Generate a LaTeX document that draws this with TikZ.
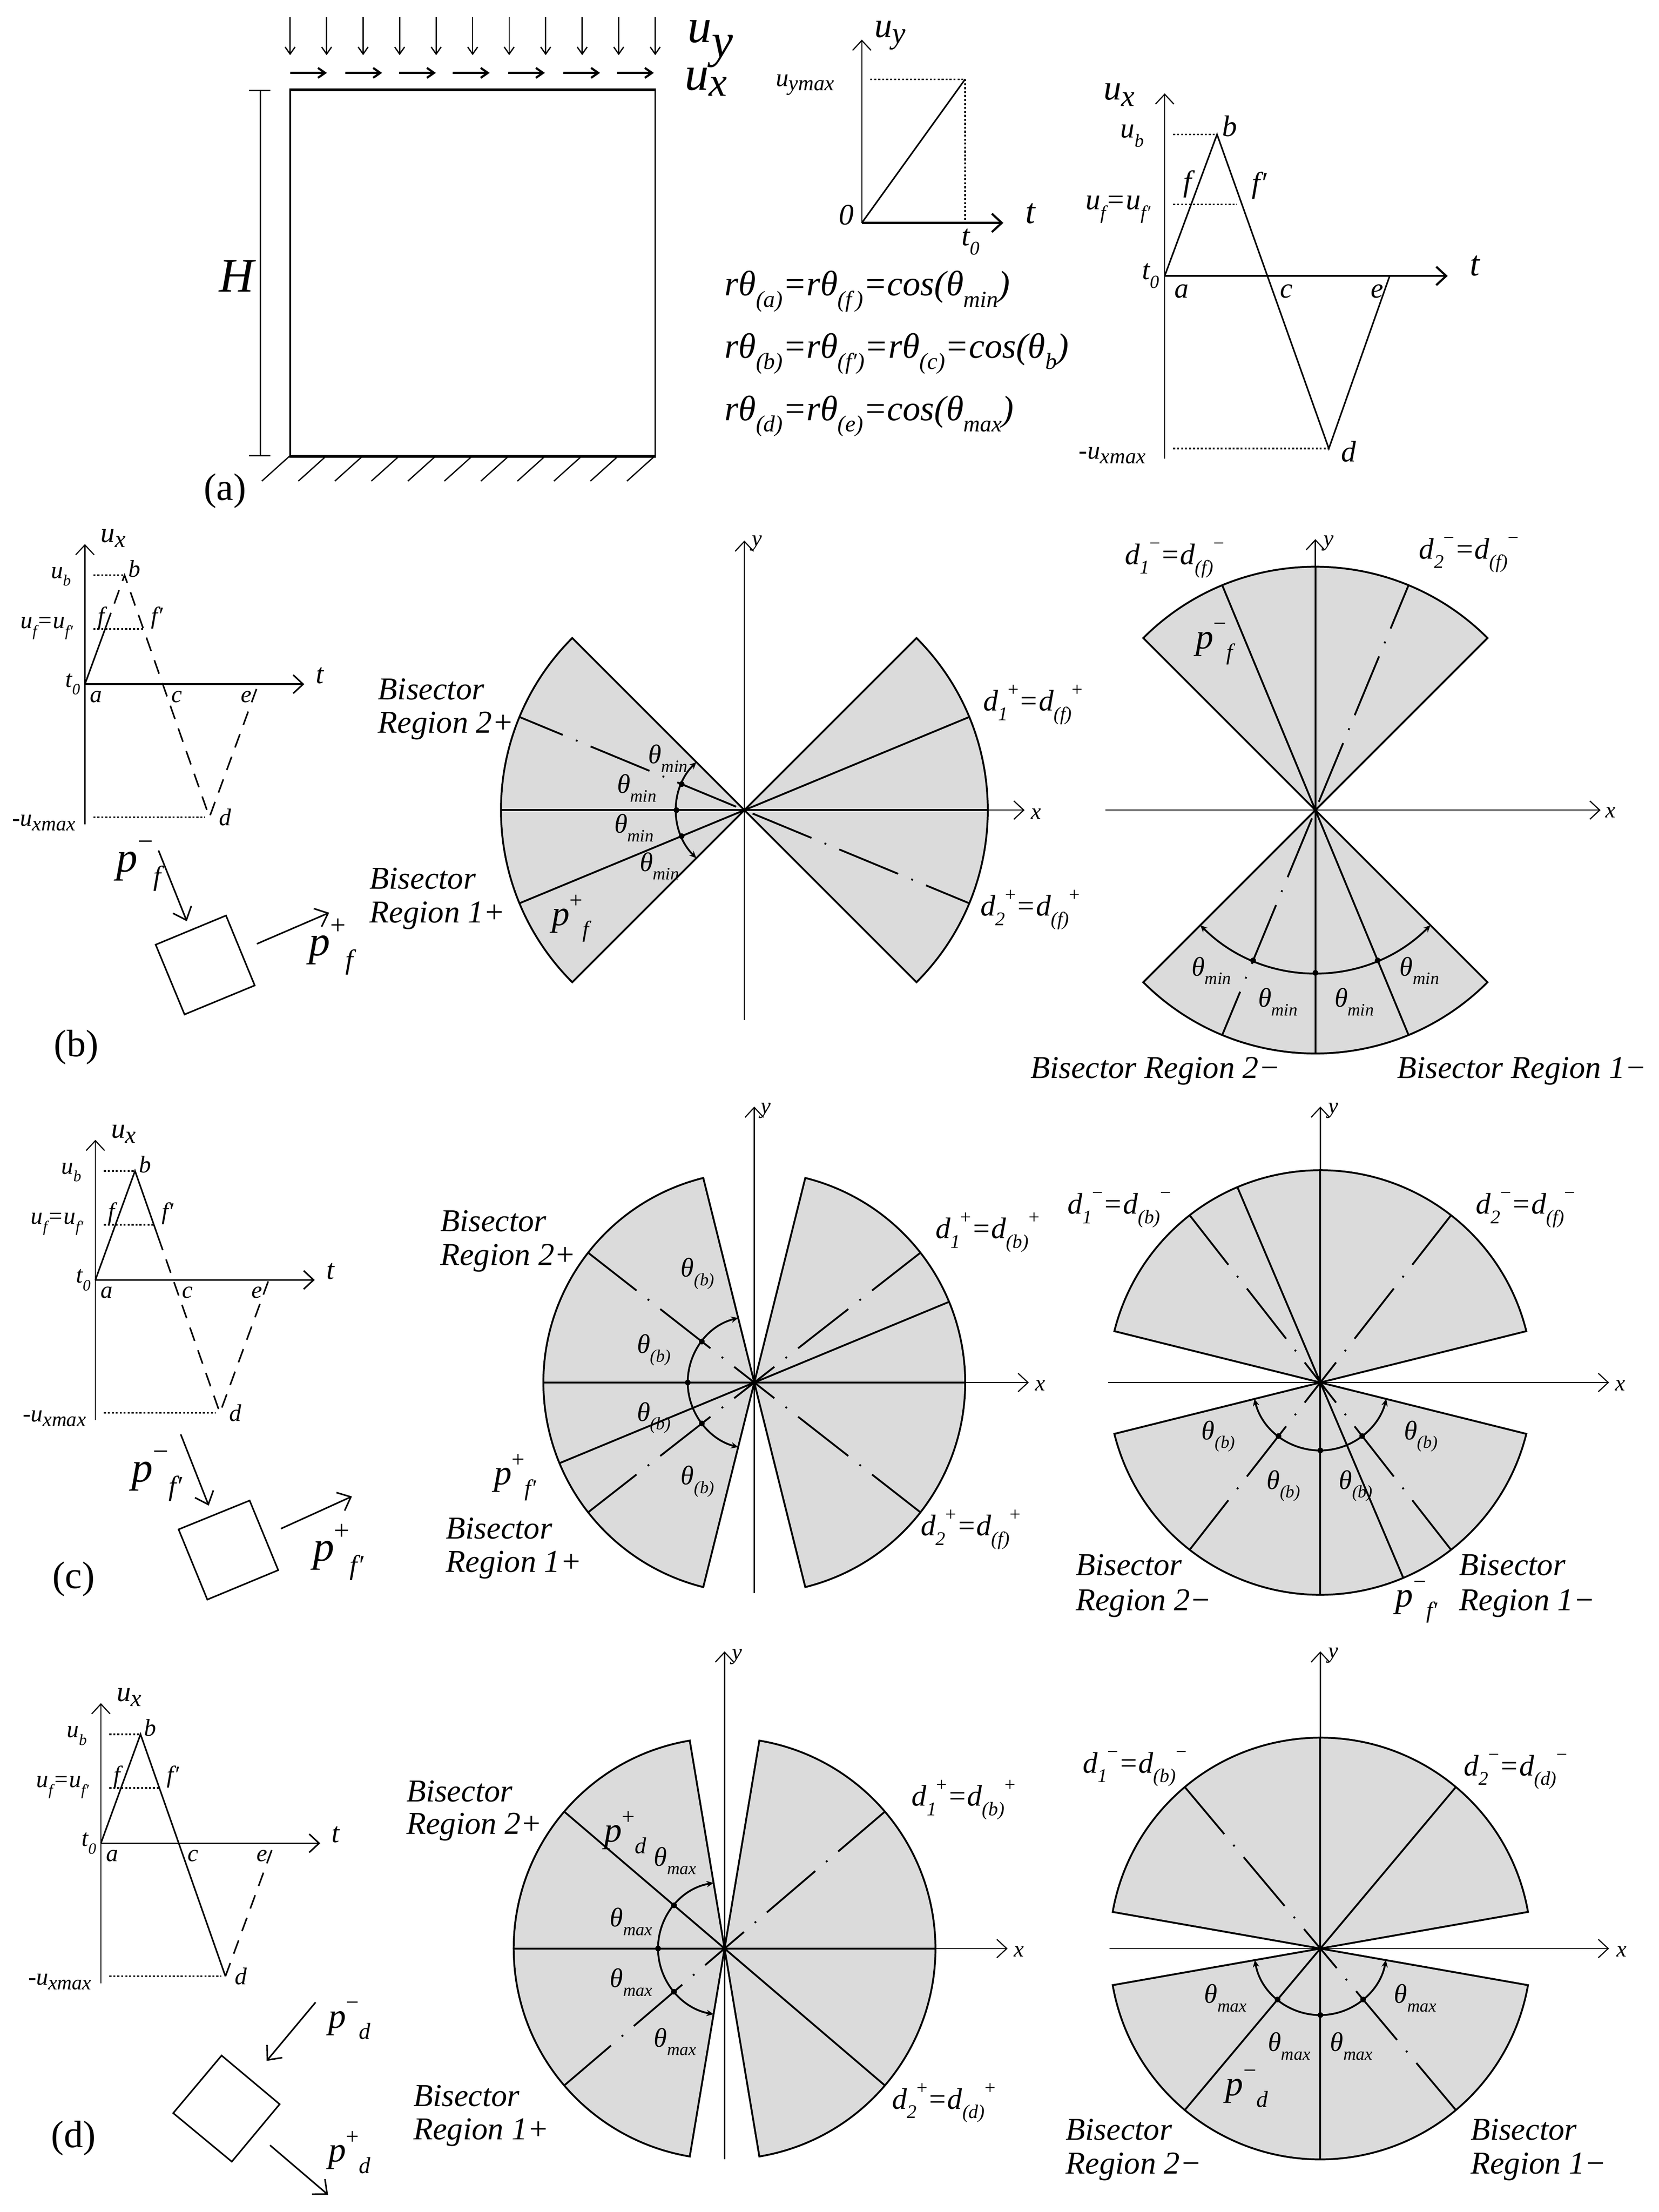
\documentclass[tikz,border=0pt]{standalone}
\usepackage{fontspec}
\usepackage{graphicx}
\setmainfont{Liberation Serif}
\usetikzlibrary{arrows.meta}

\newcommand{\lwr}[1]{\raisebox{-.32em}{\scalebox{.65}{#1}}}
\newcommand{\lwrb}[1]{\raisebox{-.18em}{\scalebox{.85}{#1}}}
\newcommand{\upr}[1]{\raisebox{.5em}{\scalebox{.65}{\upshape #1}}}
\newcommand{\thmin}{θ\lwr{min}}
\newcommand{\thmax}{θ\lwr{max}}
\newcommand{\thb}{θ\lwr{(b)}}

\newcommand{\wedgeset}[3]{\foreach \s/\e in {#3} \draw[sector] (#1) -- ++(\s:#2pt) arc[start angle=\s,end angle=\e,radius=#2pt] -- cycle;}
\newcommand{\rays}[4]{\foreach \a in {#4} \draw[#3] (#1) -- ++(\a:#2pt);}
\newcommand{\sweep}[5]{\draw[sweep arc] (#1) ++(#3:#2pt) arc[start angle=#3,end angle=#4,radius=#2pt];
  \foreach \a in {#5} \fill (#1) ++(\a:#2pt) circle[radius=2pt];}

\newcommand{\uxframe}{
  \coordinate (pa) at (0,0);
  \coordinate (pb) at (28,-77);
  \coordinate (pf) at (15,-41);
  \coordinate (pg) at (44.3,-30.5);
  \coordinate (pd) at (88,94);
  \coordinate (pe) at (122.5,0);
  \draw[axis] (0,99) -- (0,-99);
  \draw[axis,line width=1.1pt] (pa) -- (155,0);
  \draw[level line] (6,-77) -- (27,-77);
  \draw[level line] (6,-39) -- (41,-39);
  \draw[level line] (6,94) -- (85,94);
  \node[chart text,font=\itshape\fontsize{20}{22}\selectfont] (lux) at (20,-103) {u\lwrb{x}};
  \node[chart text] (lub) at (-17,-76) {u\lwr{b}};
  \node[chart text] (lb) at (35,-81.5) {b};
  \node[chart text] (lf) at (11.5,-47) {f};
  \node[chart text] (lg) at (51,-47) {f′};
  \node[chart text] (luf) at (-27,-39.5) {u\lwr{f}=u\lwr{f′}};
  \node[chart text] (lt0) at (-8.5,0) {t\lwr{0}};
  \node[chart text] (la) at (8,9) {a};
  \node[chart text] (lc) at (65,9) {c};
  \node[chart text] (le) at (114,9) {e};
  \node[chart text,font=\itshape\fontsize{20}{22}\selectfont] (lt) at (166,-6) {t};
  \node[chart text] (lumax) at (-29,98) {-u\lwrb{xmax}};
  \node[chart text] (ld) at (99,94) {d};
}

\begin{document}
\begin{tikzpicture}[x=1pt,y=-1pt,>={Straight Barb[length=7pt,width=13pt]},
   sector/.style={fill=black!14,draw,line width=1.3pt,line join=miter},
   plain ray/.style={line width=1.3pt},
   chain ray/.style={line width=1.3pt,dash pattern=on 45pt off 10pt on 1.3pt off 10pt,dash phase=#1},
   axis/.style={->,line width=.8pt},
   sweep arc/.style={line width=1.3pt,{Stealth[length=5pt,width=4.5pt]}-{Stealth[length=5pt,width=4.5pt]}},
   level line/.style={line width=1.1pt,dash pattern=on 1.4pt off 1.4pt},
   path line/.style={line width=1.1pt},
   dash line/.style={line width=1.1pt,dash pattern=on 10pt off 7pt},
   element/.style={line width=1.1pt},
   strain arrow/.style={->,line width=1.1pt,>={Straight Barb[length=8pt,width=14pt]}},
   load arrow/.style={->,line width=.9pt,>={Straight Barb[length=5pt,width=7pt]}},
   shear arrow/.style={->,line width=1.5pt,>={Straight Barb[length=5pt,width=7pt]}},
   chart text/.style={inner sep=0pt,font=\itshape\fontsize{17}{19}\selectfont},
   fan text/.style={inner sep=0pt,anchor=west,font=\itshape\fontsize{22.5}{25}\selectfont},
   theta text/.style={inner sep=0pt,font=\itshape\fontsize{19}{21}\selectfont},
   dist text/.style={inner sep=0pt,font=\itshape\fontsize{21}{23}\selectfont},
   strain text/.style={inner sep=0pt,font=\itshape\fontsize{25}{27}\selectfont},
   big text/.style={inner sep=0pt,font=\itshape\fontsize{25}{27}\selectfont},
   huge text/.style={inner sep=0pt,font=\itshape\fontsize{34}{36}\selectfont},
   panel text/.style={inner sep=0pt,font=\fontsize{27}{29}\selectfont}]

  \useasboundingbox (1,0) rectangle (1173,1563.2);

  \node[draw,line width=1.2pt,minimum width=258pt,minimum height=258pt,inner sep=0pt] (block) at (335,193) {};
  \draw[line width=2pt] (block.north west) -- (block.north east);
  \draw[line width=2pt] (block.south west) -- (block.south east);
  \foreach \i in {0,...,10} \draw[load arrow] ({206+25.8*\i},12) -- ({206+25.8*\i},39);
  \foreach \i in {0,...,10} \draw[line width=.9pt] ({206+25.8*\i},322) -- ({186+25.8*\i},340);
  \foreach \x in {206,245,283,321,360,399,437} \draw[shear arrow] (\x,51.5) -- ++(26,0);
  \draw[line width=.8pt] (185,64) -- (185,322);
  \foreach \y in {64,322} \draw[line width=.8pt] (177,\y) -- (192,\y);
  \node[huge text] (hgt) at (168,195) {H};
  \node[panel text] (pa label) at (160,347) {(a)};
  \node[huge text] (uy) at (503,31) {u\raisebox{-.3em}{y}};
  \node[huge text] (ux) at (500,58) {u\raisebox{-.12em}{\scalebox{.85}{x}}};

  \coordinate (uy0) at (610,157.5);
  \coordinate (uy1) at (683,56);
  \draw[axis] (uy0) -- (610,28);
  \draw[axis,line width=1.5pt] (uy0) -- (710,157.5);
  \draw[path line] (uy0) -- (uy1);
  \draw[level line] (616,56) -- (uy1);
  \draw[level line] (uy1) -- (683,157.5);
  \node[big text] (uyl) at (630,25) {u\lwrb{y}};
  \node[chart text,font=\itshape\fontsize{18}{20}\selectfont] (uymax) at (570,60) {u\lwrb{ymax}};
  \node[chart text,font=\itshape\fontsize{21}{23}\selectfont] (zero) at (599,152) {0};
  \node[big text] (tl) at (729,151) {t};
  \node[chart text,font=\itshape\fontsize{21}{23}\selectfont] (t0l) at (687,171) {t\lwr{0}};

  \node[strain text,anchor=west] (eq1) at (513,206) {rθ\lwr{(a)}=rθ\lwr{(f\,)}=cos(\thmin)};
  \node[strain text,anchor=west] (eq2) at (513,250) {rθ\lwr{(b)}=rθ\lwr{(f′)}=rθ\lwr{(c)}=cos(θ\lwr{b})};
  \node[strain text,anchor=west] (eq3) at (513,294) {rθ\lwr{(d)}=rθ\lwr{(e)}=cos(\thmax)};

  \coordinate (oa) at (824,195);
  \coordinate (ob) at (861,95);
  \coordinate (od) at (940,317);
  \coordinate (oe) at (983,195);
  \draw[axis] (824,324) -- (824,66);
  \draw[axis,line width=1.5pt] (oa) -- (1024,195);
  \draw[path line] (oa) -- (ob) -- (od) -- (oe);
  \draw[level line] (830,95) -- (ob);
  \draw[level line] (830,144.5) -- (875,144.5);
  \draw[level line] (830,317) -- (od);
  \node[big text] (bux) at (792,67) {u\lwrb{x}};
  \node[chart text,font=\itshape\fontsize{20}{22}\selectfont] (bub) at (801,96) {u\lwr{b}};
  \node[chart text,font=\itshape\fontsize{21}{23}\selectfont] (bb) at (870,89) {b};
  \node[chart text,font=\itshape\fontsize{21}{23}\selectfont] (bf) at (840,130) {f};
  \node[chart text,font=\itshape\fontsize{21}{23}\selectfont] (bg) at (891,131) {f′};
  \node[chart text,font=\itshape\fontsize{21}{23}\selectfont] (buf) at (791,148) {u\lwr{f}=u\lwr{f′}};
  \node[chart text,font=\itshape\fontsize{20}{22}\selectfont] (bt0) at (814,195) {t\lwr{0}};
  \node[chart text,font=\itshape\fontsize{20}{22}\selectfont] (ba) at (836,206) {a};
  \node[chart text,font=\itshape\fontsize{20}{22}\selectfont] (bc) at (910,206) {c};
  \node[chart text,font=\itshape\fontsize{20}{22}\selectfont] (be) at (974,206) {e};
  \node[big text] (bt) at (1043,188) {t};
  \node[chart text,font=\itshape\fontsize{18}{20}\selectfont] (bumax) at (787,322) {-u\lwrb{xmax}};
  \node[chart text,font=\itshape\fontsize{21}{23}\selectfont] (bd) at (954,319) {d};

  \begin{scope}[shift={(61,483.5)}]
    \uxframe
    \draw[path line] (pa) -- (pf);
    \draw[dash line] (pf) -- (pb) -- (pd) -- (pe);
  \end{scope}
  \node[big text,font=\itshape\fontsize{30}{32}\selectfont] (pfm) at (99,612) {p\upr{−}\lwr{f}};
  \draw[strain arrow] (113,601) -- (133,651);
  \draw[element] (160.7,647) -- (181,696.4) -- (131.4,716.9) -- (111,667.6) -- cycle;
  \draw[strain arrow] (182.5,667) -- (233.6,645);
  \node[big text,font=\itshape\fontsize{30}{32}\selectfont] (pfp) at (235,669) {p\upr{+}\lwr{f}};
  \node[panel text] (pb label) at (55,740) {(b)};

  \coordinate (cb) at (527,572.5);
  \wedgeset{cb}{172}{135/225,-45/45}
  \rays{cb}{172}{plain ray}{180,0,202.5,22.5}
  \rays{cb}{172}{chain ray=60}{157.5,-22.5}
  \draw[axis] (699,572.5) -- (725,572.5);
  \draw[axis] (527,721) -- (527,382);
  \sweep{cb}{48}{135}{225}{157.5,180,202.5}
  \node[inner sep=0pt,font=\itshape\fontsize{16}{18}\selectfont] (yb) at (536,384) {y};
  \node[inner sep=0pt,font=\itshape\fontsize{16}{18}\selectfont] (xb) at (733,575) {x};
  \node[fan text] (bis2b) at (268,487) {Bisector};
  \node[fan text] (reg2b) at (268,513) {Region 2+};
  \node[fan text] (bis1b) at (262,621) {Bisector};
  \node[fan text] (reg1b) at (262,647) {Region 1+};
  \node[theta text] (thb1) at (473,536) {\thmin};
  \node[theta text] (thb2) at (451,557) {\thmin};
  \node[theta text] (thb3) at (449,585) {\thmin};
  \node[theta text] (thb4) at (467,612) {\thmin};
  \node[big text] (pin) at (404,649) {p\upr{+}\lwr{f}};
  \node[dist text] (d1b) at (731,498) {d\lwr{1}\upr{+}=d\lwr{(f)}\upr{+}};
  \node[dist text] (d2b) at (729,643) {d\lwr{2}\upr{+}=d\lwr{(f)}\upr{+}};

  \coordinate (db) at (930.5,572.5);
  \wedgeset{db}{172}{45/135,225/315}
  \rays{db}{172}{plain ray}{90,270,112.5,292.5}
  \rays{db}{172}{chain ray=60}{67.5,247.5}
  \draw[axis] (782,572.5) -- (1132,572.5);
  \draw[axis] (930.5,744) -- (930.5,381);
  \sweep{db}{115}{225}{315}{247.5,270,292.5}
  \node[inner sep=0pt,font=\itshape\fontsize{16}{18}\selectfont] (ybr) at (940,384) {y};
  \node[inner sep=0pt,font=\itshape\fontsize{16}{18}\selectfont] (xbr) at (1139,574) {x};
  \node[dist text] (d1bm) at (831,396) {d\lwr{1}\upr{−}=d\lwr{(f)}\upr{−}};
  \node[dist text] (d2bm) at (1039,392) {d\lwr{2}\upr{−}=d\lwr{(f)}\upr{−}};
  \node[big text] (pinm) at (859,455) {p\upr{−}\lwr{f}};
  \node[theta text] (thbr1) at (857,686) {\thmin};
  \node[theta text] (thbr2) at (904,708) {\thmin};
  \node[theta text] (thbr3) at (958,708) {\thmin};
  \node[theta text] (thbr4) at (1004,686) {\thmin};
  \node[fan text] (reg2bm) at (729,757) {Bisector Region 2−};
  \node[fan text] (reg1bm) at (988,757) {Bisector Region 1−};

  \begin{scope}[shift={(68.4,904.5)}]
    \uxframe
    \draw[path line] (pa) -- (pb) -- (pg);
    \draw[dash line] (pg) -- (pd) -- (pe);
  \end{scope}
  \node[big text,font=\itshape\fontsize{30}{32}\selectfont] (pcm) at (112,1043) {p\upr{−}\lwr{f′}};
  \draw[strain arrow] (128.7,1013.6) -- (148.5,1064);
  \draw[element] (177.4,1060.4) -- (197.6,1109.6) -- (147.5,1130.4) -- (127.2,1080.8) -- cycle;
  \draw[strain arrow] (199.5,1080.3) -- (249.7,1057.5);
  \node[big text,font=\itshape\fontsize{30}{32}\selectfont] (pcp) at (240,1097) {p\upr{+}\lwr{f′}};
  \node[panel text] (pc label) at (53,1116) {(c)};

  \coordinate (cc) at (534,977);
  \wedgeset{cc}{149}{104/256,-76/76}
  \rays{cc}{149}{plain ray}{180,0,202.5,22.5}
  \rays{cc}{149}{chain ray=27}{142,218,38,-38}
  \draw[axis] (683,977) -- (728,977);
  \draw[axis] (534,1126) -- (534,782);
  \sweep{cc}{47}{104}{256}{142,180,218}
  \node[inner sep=0pt,font=\itshape\fontsize{16}{18}\selectfont] (yc) at (542,785) {y};
  \node[inner sep=0pt,font=\itshape\fontsize{16}{18}\selectfont] (xc) at (736,979) {x};
  \node[fan text] (bis2c) at (312,863) {Bisector};
  \node[fan text] (reg2c) at (312,889) {Region 2+};
  \node[fan text] (bis1c) at (316,1080) {Bisector};
  \node[fan text] (reg1c) at (316,1106) {Region 1+};
  \node[theta text] (thc1) at (494,900) {\thb};
  \node[theta text] (thc2) at (463,954) {\thb};
  \node[theta text] (thc3) at (463,1002) {\thb};
  \node[theta text] (thc4) at (494,1047) {\thb};
  \node[big text] (pinc) at (365,1044) {p\upr{+}\lwr{f′}};
  \node[dist text] (d1c) at (699,871) {d\lwr{1}\upr{+}=d\lwr{(b)}\upr{+}};
  \node[dist text] (d2c) at (687,1081) {d\lwr{2}\upr{+}=d\lwr{(f)}\upr{+}};

  \coordinate (dc) at (934,977);
  \wedgeset{dc}{150}{14/166,194/346}
  \rays{dc}{150}{plain ray}{90,270,113,293}
  \rays{dc}{150}{chain ray=27}{52,128,232,308}
  \draw[axis] (784,977) -- (1138,977);
  \draw[axis] (934,1127) -- (934,782);
  \sweep{dc}{48}{194}{346}{232,270,308}
  \node[inner sep=0pt,font=\itshape\fontsize{16}{18}\selectfont] (ycr) at (943,785) {y};
  \node[inner sep=0pt,font=\itshape\fontsize{16}{18}\selectfont] (xcr) at (1146,979) {x};
  \node[dist text] (d1cm) at (792,855) {d\lwr{1}\upr{−}=d\lwr{(b)}\upr{−}};
  \node[dist text] (d2cm) at (1079,855) {d\lwr{2}\upr{−}=d\lwr{(f)}\upr{−}};
  \node[theta text] (thcr1) at (862,1015) {\thb};
  \node[theta text] (thcr2) at (908,1050) {\thb};
  \node[theta text] (thcr3) at (959,1050) {\thb};
  \node[theta text] (thcr4) at (1005,1015) {\thb};
  \node[fan text] (bis2cm) at (761,1106) {Bisector};
  \node[fan text] (reg2cm) at (761,1133) {Region 2−};
  \node[fan text] (bis1cm) at (1032,1106) {Bisector};
  \node[fan text] (reg1cm) at (1032,1133) {Region 1−};
  \node[big text] (pincm) at (1002,1132) {p\upr{−}\lwr{f′}};

  \begin{scope}[shift={(72.3,1302.6)}]
    \uxframe
    \draw[path line] (pa) -- (pb) -- (pd);
    \draw[dash line] (pd) -- (pe);
  \end{scope}
  \draw[strain arrow] (224,1415) -- (189.4,1456.4);
  \node[big text] (pdm) at (248,1428) {p\upr{−}\lwr{d}};
  \draw[element] (157.6,1452.6) -- (198.6,1487) -- (164.8,1527.6) -- (123.4,1493.3) -- cycle;
  \draw[strain arrow] (191.8,1516) -- (232.8,1551);
  \node[big text] (pdp) at (248,1521) {p\upr{+}\lwr{d}};
  \node[panel text] (pd label) at (53,1511) {(d)};

  \coordinate (cd) at (513,1377);
  \wedgeset{cd}{149}{99.5/260.5,-80.5/80.5}
  \rays{cd}{149}{plain ray}{180,0,139.5,-40.5}
  \rays{cd}{149}{chain ray=27}{220.5,40.5}
  \draw[axis] (662,1377) -- (713,1377);
  \draw[axis] (513,1526) -- (513,1167);
  \sweep{cd}{47}{99.5}{260.5}{139.5,180,220.5}
  \node[inner sep=0pt,font=\itshape\fontsize{16}{18}\selectfont] (yd) at (522,1171) {y};
  \node[inner sep=0pt,font=\itshape\fontsize{16}{18}\selectfont] (xd) at (721,1379) {x};
  \node[fan text] (bis2d) at (288,1266) {Bisector};
  \node[fan text] (reg2d) at (288,1291) {Region 2+};
  \node[fan text] (bis1d) at (293,1481) {Bisector};
  \node[fan text] (reg1d) at (293,1507) {Region 1+};
  \node[theta text] (thd1) at (478,1315) {\thmax};
  \node[theta text] (thd2) at (447,1358) {\thmax};
  \node[theta text] (thd3) at (447,1401) {\thmax};
  \node[theta text] (thd4) at (478,1443) {\thmax};
  \node[big text] (pind) at (443,1295) {p\upr{+}\lwr{d}};
  \node[dist text] (d1d) at (682,1272) {d\lwr{1}\upr{+}=d\lwr{(b)}\upr{+}};
  \node[dist text] (d2d) at (668,1486) {d\lwr{2}\upr{+}=d\lwr{(d)}\upr{+}};

  \coordinate (dd) at (934,1377);
  \wedgeset{dd}{149}{10/170,190/350}
  \rays{dd}{149}{plain ray}{90,270,50,230}
  \rays{dd}{149}{chain ray=27}{130,310}
  \draw[axis] (785,1377) -- (1138,1377);
  \draw[axis] (934,1526) -- (934,1167);
  \sweep{dd}{47}{190}{350}{230,270,310}
  \node[inner sep=0pt,font=\itshape\fontsize{16}{18}\selectfont] (ydr) at (943,1170) {y};
  \node[inner sep=0pt,font=\itshape\fontsize{16}{18}\selectfont] (xdr) at (1147,1379) {x};
  \node[dist text] (d1dm) at (803,1250) {d\lwr{1}\upr{−}=d\lwr{(b)}\upr{−}};
  \node[dist text] (d2dm) at (1072,1252) {d\lwr{2}\upr{−}=d\lwr{(d)}\upr{−}};
  \node[theta text] (thdr1) at (867,1412) {\thmax};
  \node[theta text] (thdr2) at (912,1446) {\thmax};
  \node[theta text] (thdr3) at (956,1446) {\thmax};
  \node[theta text] (thdr4) at (1001,1412) {\thmax};
  \node[big text] (pindm) at (882,1476) {p\upr{−}\lwr{d}};
  \node[fan text] (bis2dm) at (754,1505) {Bisector};
  \node[fan text] (reg2dm) at (754,1531) {Region 2−};
  \node[fan text] (bis1dm) at (1040,1505) {Bisector};
  \node[fan text] (reg1dm) at (1040,1531) {Region 1−};
\end{tikzpicture}
\end{document}
